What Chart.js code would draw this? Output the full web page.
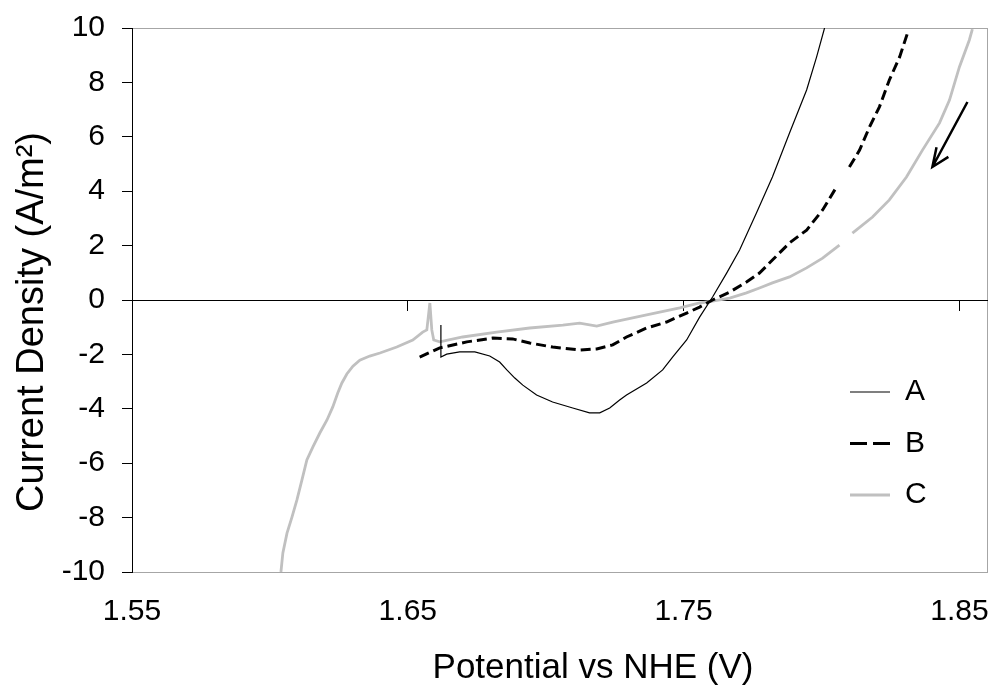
<!DOCTYPE html>
<html>
<head>
<meta charset="utf-8">
<script src="https://cdn.jsdelivr.net/npm/chart.js@4.4.1/dist/chart.umd.min.js"></script>
<style>
  html, body { margin: 0; padding: 0; background: #fff; }
  #wrap { width: 997px; height: 693px; }
</style>
</head>
<body>
<div id="wrap"><canvas id="c" width="997" height="693"></canvas></div>
<script>
// Polarisation curves: current density vs potential for three runs
const FONT = "'Liberation Sans', Arial, Helvetica, sans-serif";

const seriesNames = ['A', 'B', 'C'];
const xTitle = 'Potential vs NHE (V)';
const yTitle = 'Current Density (A/m\u00B2)';

const xTickValues = [1.55, 1.65, 1.75, 1.85];
const xMin = 1.55;
const xMax = 1.86;
const yMin = -10;
const yMax = 10;
const yStep = 2;

// Run A
const potentialA = [1.6620, 1.6620, 1.6641, 1.6688, 1.6743, 1.6797, 1.6833, 1.6859, 1.6888, 1.6917,
  1.6967, 1.7025, 1.7098, 1.7159, 1.7196, 1.7232, 1.7268, 1.7293, 1.7366, 1.7424,
  1.7460, 1.7511, 1.7558, 1.7605, 1.7656, 1.7703, 1.7764, 1.7822, 1.7884, 1.7946,
  1.7982, 1.8011];
const currentA = [-0.92, -2.10, -1.99, -1.91, -1.91, -2.06, -2.28, -2.57, -2.87, -3.13,
  -3.49, -3.75, -3.97, -4.15, -4.15, -3.97, -3.68, -3.49, -3.05, -2.57,
  -2.10, -1.47, -0.63, 0.11, 0.99, 1.84, 3.20, 4.52, 6.14, 7.72,
  8.93, 10.0];

// Run B (null = break in the record)
const potentialB = [1.6543, 1.6616, 1.6714, 1.6808, 1.6880, 1.6942, 1.7025, 1.7123, 1.7185, 1.7243,
  1.7293, 1.7366, 1.7438, 1.7511, 1.7558, 1.7605, 1.7667, 1.7728, 1.7775, 1.7822,
  1.7884, 1.7946, 1.8004, 1.8054, 1.8078, 1.8101, 1.8138, 1.8174, 1.8210, 1.8246,
  1.8283, 1.8312];
const currentB = [-2.10, -1.76, -1.54, -1.40, -1.43, -1.58, -1.73, -1.84, -1.80, -1.65,
  -1.36, -1.03, -0.81, -0.48, -0.26, 0.00, 0.29, 0.66, 0.99, 1.47,
  2.10, 2.57, 3.31, 4.15, null, 4.89, 5.51, 6.36, 7.10, 8.09,
  8.93, 9.82];

// Run C (null = break in the record)
const potentialC = [1.6040, 1.6047, 1.6062, 1.6080, 1.6098, 1.6116, 1.6134, 1.6156, 1.6181, 1.6207,
  1.6228, 1.6246, 1.6261, 1.6279, 1.6301, 1.6326, 1.6362, 1.6399, 1.6460, 1.6518,
  1.6554, 1.6569, 1.6580, 1.6587, 1.6594, 1.6616, 1.6699, 1.6822, 1.6942, 1.7062,
  1.7123, 1.7185, 1.7243, 1.7366, 1.7486, 1.7558, 1.7605, 1.7667, 1.7728, 1.7775,
  1.7822, 1.7884, 1.7946, 1.8004, 1.8065, 1.8088, 1.8112, 1.8185, 1.8246, 1.8308,
  1.8366, 1.8428, 1.8464, 1.8500, 1.8536, 1.8547];
const currentC = [-10.0, -9.30, -8.57, -7.98, -7.35, -6.62, -5.88, -5.40, -4.89, -4.41,
  -3.93, -3.42, -3.05, -2.72, -2.43, -2.21, -2.06, -1.95, -1.73, -1.47,
  -1.18, -1.10, -0.11, -1.10, -1.47, -1.54, -1.36, -1.18, -1.03, -0.92,
  -0.85, -0.96, -0.81, -0.55, -0.29, -0.11, -0.04, 0.07, 0.26, 0.44,
  0.63, 0.85, 1.18, 1.54, 2.02, null, 2.46, 3.05, 3.68, 4.52,
  5.51, 6.51, 7.35, 8.57, 9.56, 9.96];

// Scan-direction arrow (shaft, break, head)
const arrowPotential = [1.8529, 1.8402, null, 1.8417, 1.8402, 1.8460];
const arrowCurrent = [7.28, 4.89, null, 5.62, 4.89, 5.26];

function points(xs, ys) {
  return xs.map((x, i) => ({ x: x === null ? NaN : x, y: ys[i] }));
}

const sameValue = (a, b) => Math.abs(a - b) < 1e-9;

// keep the plot frame exactly where the layout padding puts it
function noEdgePadding(scale) {
  scale.paddingLeft = 0; scale.paddingRight = 0;
  scale.paddingTop = 0; scale.paddingBottom = 0;
}

const decor = {
  id: 'decor',
  beforeDraw(chart) {
    const { ctx, chartArea: a } = chart;
    ctx.save();
    ctx.fillStyle = '#fff';
    ctx.fillRect(0, 0, chart.width, chart.height);
    ctx.restore();
    // legend sits inside the plot, lower right
    const lg = chart.legend;
    lg.left = 828.5; lg.top = 355.5;
    lg.right = a.right; lg.bottom = a.bottom;
    lg.width = lg.right - lg.left; lg.height = lg.bottom - lg.top;
  },
  afterDraw(chart) {
    const { ctx } = chart;
    ctx.save();
    ctx.fillStyle = '#000';
    ctx.textAlign = 'center';
    ctx.textBaseline = 'alphabetic';
    ctx.font = '35px ' + FONT;
    ctx.fillText(xTitle, 593, 678);
    ctx.translate(43, 322);
    ctx.rotate(-Math.PI / 2);
    ctx.font = '38px ' + FONT;
    ctx.fillText(yTitle, 0, 0);
    ctx.restore();
  }
};

new Chart(document.getElementById('c'), {
  type: 'scatter',
  data: {
    datasets: [
      { label: seriesNames[0], data: points(potentialA, currentA), showLine: true,
        borderColor: '#000', backgroundColor: '#000', borderWidth: 1.2, pointRadius: 0, spanGaps: false },
      { label: seriesNames[1], data: points(potentialB, currentB), showLine: true,
        borderColor: '#000', backgroundColor: '#000', borderWidth: 3, borderDash: [10, 5],
        pointRadius: 0, spanGaps: false },
      { label: seriesNames[2], data: points(potentialC, currentC), showLine: true,
        borderColor: '#c0c0c0', backgroundColor: '#c0c0c0', borderWidth: 2.8, pointRadius: 0, spanGaps: false },
      { label: 'arrow', data: points(arrowPotential, arrowCurrent), showLine: true,
        borderColor: '#000', backgroundColor: '#000', borderWidth: 2.5, pointRadius: 0, spanGaps: false }
    ]
  },
  options: {
    responsive: false,
    animation: false,
    devicePixelRatio: 1,
    layout: { padding: { left: 0, top: 28, right: 10, bottom: 0 } },
    plugins: {
      tooltip: { enabled: false },
      legend: {
        position: 'chartArea',
        align: 'start',
        labels: {
          usePointStyle: true,
          pointStyle: 'line',
          pointStyleWidth: 40,
          boxHeight: 30,
          padding: 21.5,
          color: '#000',
          font: { family: FONT, size: 30 },
          generateLabels(chart) {
            const items = Chart.defaults.plugins.legend.labels.generateLabels(chart);
            return items.filter(it => it.datasetIndex < 3).map(it => {
              if (it.datasetIndex === 1) it.lineDash = [17, 6];
              return it;
            });
          }
        }
      }
    },
    scales: {
      x: {
        type: 'linear',
        position: 'bottom',
        min: xMin,
        max: xMax,
        afterBuildTicks(scale) {
          scale.ticks = xTickValues.concat([xMax]).map(v => ({ value: v }));
        },
        afterFit(scale) { scale.height = 121; noEdgePadding(scale); },
        ticks: {
          autoSkip: false,
          maxRotation: 0,
          padding: 22,
          color: '#000',
          font: { family: FONT, size: 30 },
          callback: (v) => xTickValues.some(t => sameValue(t, v)) ? v.toFixed(2) : ''
        },
        grid: {
          drawTicks: false,
          lineWidth: 1,
          color: (c) => (c.tick && sameValue(c.tick.value, xMax)) ? '#a6a6a6' : 'rgba(0,0,0,0)'
        },
        border: { display: true, color: '#a6a6a6', width: 1 }
      },
      x2: {
        type: 'linear',
        axis: 'x',
        position: { y: 0 },
        min: xMin,
        max: xMax,
        afterBuildTicks(scale) {
          scale.ticks = xTickValues.map(v => ({ value: v }));
        },
        afterFit(scale) { noEdgePadding(scale); },
        ticks: { display: false },
        grid: { drawOnChartArea: false, drawTicks: true, tickLength: 10, color: '#000', lineWidth: 1 },
        border: { display: true, color: '#000', width: 1 }
      },
      y: {
        type: 'linear',
        position: 'left',
        min: yMin,
        max: yMax,
        afterFit(scale) { scale.width = 132; noEdgePadding(scale); },
        ticks: {
          stepSize: yStep,
          padding: 17,
          color: '#000',
          font: { family: FONT, size: 30 }
        },
        grid: {
          drawTicks: true,
          tickLength: 10,
          lineWidth: 1,
          tickColor: '#000',
          color: (c) => {
            const v = c.tick ? c.tick.value : null;
            if (v === yMax || v === yMin) return '#a6a6a6';
            return 'rgba(0,0,0,0)';
          }
        },
        border: { display: true, color: '#000', width: 1 }
      }
    }
  },
  plugins: [decor]
});
</script>
</body>
</html>
